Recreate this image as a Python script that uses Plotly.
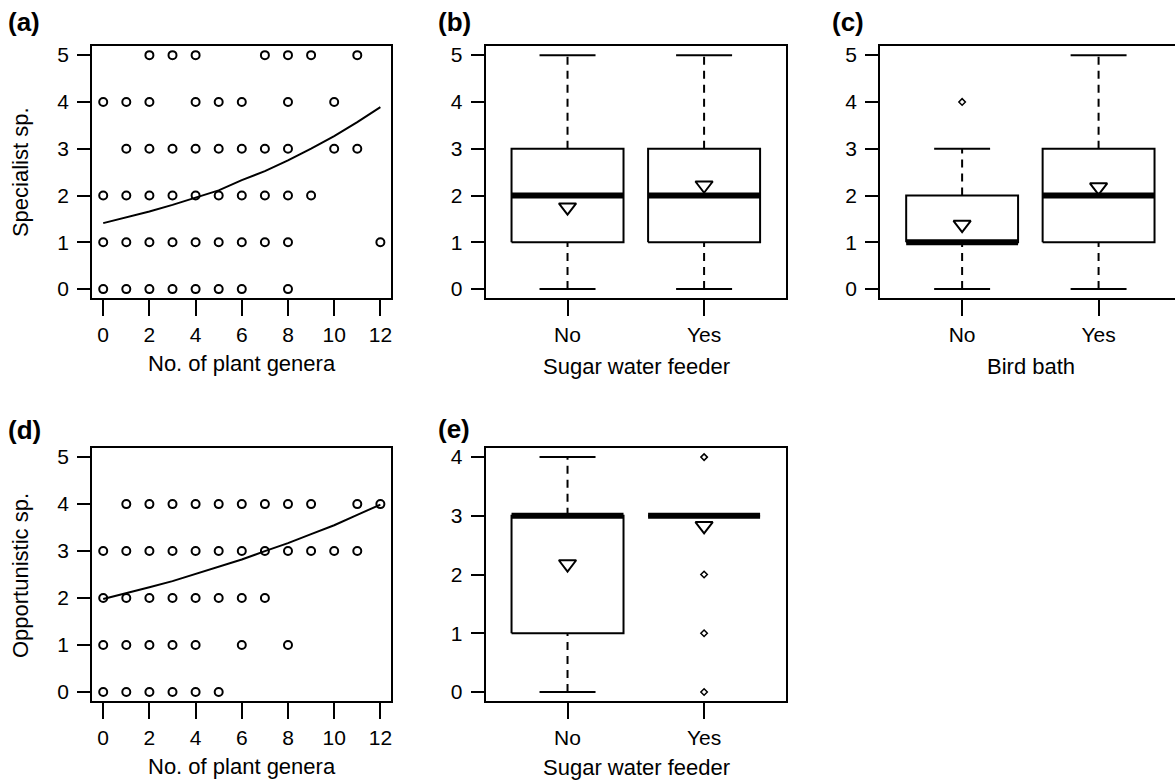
import plotly.graph_objects as go

# ---------------- data ----------------
# Panel (a): specialist species vs number of plant genera
spec_genera = [2, 3, 4, 7, 8, 9, 11,
               0, 1, 2, 4, 5, 6, 8, 10,
               1, 2, 3, 4, 5, 6, 7, 8, 10, 11,
               0, 1, 2, 3, 4, 5, 6, 7, 8, 9,
               0, 1, 2, 3, 4, 5, 6, 7, 8, 12,
               0, 1, 2, 3, 4, 5, 6, 8]
spec_count = [5] * 7 + [4] * 8 + [3] * 10 + [2] * 10 + [1] * 10 + [0] * 8

# Panel (d): opportunistic species vs number of plant genera
opp_genera = [1, 2, 3, 4, 5, 6, 7, 8, 9, 11, 12,
              0, 1, 2, 3, 4, 5, 6, 7, 8, 9, 10, 11,
              0, 1, 2, 3, 4, 5, 6, 7,
              0, 1, 2, 3, 4, 6, 8,
              0, 1, 2, 3, 4, 5]
opp_count = [4] * 11 + [3] * 12 + [2] * 8 + [1] * 7 + [0] * 6

# fitted curves
fit_genera = [0, 1, 2, 3, 4, 5, 6, 7, 8, 9, 10, 11, 12]
spec_fit = [1.41, 1.53, 1.66, 1.80, 1.96, 2.11, 2.33, 2.52, 2.75, 3.00, 3.27, 3.57, 3.89]
opp_fit = [1.98, 2.10, 2.23, 2.36, 2.51, 2.66, 2.82, 3.00, 3.17, 3.36, 3.55, 3.77, 3.99]

groups = ["No", "Yes"]

# Panel (b): specialist sp. by sugar water feeder
b_min = [0, 0]; b_q1 = [1, 1]; b_med = [2, 2]; b_q3 = [3, 3]; b_max = [5, 5]
b_mean = [1.75, 2.22]
b_out_group = []; b_out_val = []

# Panel (c): specialist sp. by bird bath
c_min = [0, 0]; c_q1 = [1, 1]; c_med = [1, 2]; c_q3 = [2, 3]; c_max = [3, 5]
c_mean = [1.38, 2.18]
c_out_group = ["No"]; c_out_val = [4]

# Panel (e): opportunistic sp. by sugar water feeder
e_min = [0, 3]; e_q1 = [1, 3]; e_med = [3, 3]; e_q3 = [3, 3]; e_max = [4, 3]
e_mean = [2.18, 2.83]
e_out_group = ["Yes", "Yes", "Yes", "Yes"]; e_out_val = [0, 1, 2, 4]

# ---------------- figure ----------------
W, H = 1176, 784
FONT = "Liberation Sans, Arial, sans-serif"
BLACK = "#000000"
fig = go.Figure()


def px_x(p):
    return p / W


def px_y(p):
    return 1 - p / H


def ax(n):
    return ("x" if n == 1 else f"x{n}"), ("y" if n == 1 else f"y{n}")


def add_scatter_panel(n, gx, gy, fx, fy):
    xa, ya = ax(n)
    fig.add_trace(go.Scatter(x=gx, y=gy, mode="markers", xaxis=xa, yaxis=ya,
                             marker=dict(symbol="circle-open", size=8, color=BLACK,
                                         line=dict(width=2, color=BLACK)),
                             showlegend=False, hoverinfo="skip"))
    fig.add_trace(go.Scatter(x=fx, y=fy, mode="lines", xaxis=xa, yaxis=ya,
                             line=dict(color=BLACK, width=2),
                             showlegend=False, hoverinfo="skip"))


def add_box_panel(n, vmin, q1, med, q3, vmax, mean, out_g, out_v):
    xa, ya = ax(n)
    bw = 0.82
    sw = 0.41
    for i, g in enumerate(groups):
        p = i + 1
        # whiskers (dashed)
        for lo, hi in ((q3[i], vmax[i]), (vmin[i], q1[i])):
            if hi > lo:
                fig.add_trace(go.Scatter(x=[p, p], y=[lo, hi], mode="lines", xaxis=xa, yaxis=ya,
                                         line=dict(color=BLACK, width=2, dash="8px,6px"),
                                         showlegend=False, hoverinfo="skip"))
        # staples
        for v in (vmin[i], vmax[i]):
            fig.add_trace(go.Scatter(x=[p - sw / 2, p + sw / 2], y=[v, v], mode="lines",
                                     xaxis=xa, yaxis=ya, line=dict(color=BLACK, width=2),
                                     showlegend=False, hoverinfo="skip"))
        # box
        fig.add_trace(go.Scatter(x=[p - bw / 2, p + bw / 2, p + bw / 2, p - bw / 2, p - bw / 2],
                                 y=[q1[i], q1[i], q3[i], q3[i], q1[i]], mode="lines",
                                 fill="toself", fillcolor="white",
                                 xaxis=xa, yaxis=ya, line=dict(color=BLACK, width=2),
                                 showlegend=False, hoverinfo="skip"))
        # median
        fig.add_trace(go.Scatter(x=[p - bw / 2, p + bw / 2], y=[med[i], med[i]], mode="lines",
                                 xaxis=xa, yaxis=ya, line=dict(color=BLACK, width=6),
                                 showlegend=False, hoverinfo="skip"))
    # outliers
    if out_v:
        fig.add_trace(go.Scatter(x=[groups.index(g) + 1 for g in out_g], y=out_v, mode="markers",
                                 xaxis=xa, yaxis=ya,
                                 marker=dict(symbol="diamond-open", size=5, color=BLACK,
                                             line=dict(width=1.5, color=BLACK)),
                                 showlegend=False, hoverinfo="skip"))
    # means
    fig.add_trace(go.Scatter(x=[1, 2], y=mean, mode="markers", xaxis=xa, yaxis=ya,
                             marker=dict(symbol="triangle-down-open", size=15, color=BLACK,
                                         line=dict(width=2, color=BLACK)),
                             showlegend=False, hoverinfo="skip"))


add_scatter_panel(1, spec_genera, spec_count, fit_genera, spec_fit)
add_box_panel(2, b_min, b_q1, b_med, b_q3, b_max, b_mean, b_out_group, b_out_val)
add_box_panel(3, c_min, c_q1, c_med, c_q3, c_max, c_mean, c_out_group, c_out_val)
add_scatter_panel(4, opp_genera, opp_count, fit_genera, opp_fit)
add_box_panel(5, e_min, e_q1, e_med, e_q3, e_max, e_mean, e_out_group, e_out_val)

# panel pixel boxes: (left, right, top, bottom)
top_row = (44, 298)
bot_row = (448, 703)
col_a = (92.2, 391.8)
col_b = (486, 786.7)
col_c = (881, 1176)

tickfont = dict(family=FONT, size=21, color=BLACK)
common_x = dict(showline=True, linecolor=BLACK, linewidth=2, mirror=True, ticks="outside",
                ticklen=16, tickwidth=2, tickcolor=BLACK, showgrid=False, zeroline=False,
                tickfont=tickfont, ticklabelstandoff=0)
common_y = dict(showline=True, linecolor=BLACK, linewidth=2, mirror=True, ticks="outside",
                ticklen=13, tickwidth=2, tickcolor=BLACK, showgrid=False, zeroline=False,
                tickfont=tickfont, ticklabelstandoff=4)


def xdom(c):
    return [px_x(c[0]), min(1.0, px_x(c[1]))]


def ydom(r):
    return [px_y(r[1]), px_y(r[0])]


num_ticks = [0, 2, 4, 6, 8, 10, 12]
fig.update_layout(
    xaxis=dict(common_x, domain=xdom(col_a), range=[-0.48, 12.48], tickvals=num_ticks, anchor="y"),
    yaxis=dict(common_y, domain=ydom(top_row), range=[-0.2, 5.2], tickvals=[0, 1, 2, 3, 4, 5], anchor="x"),
    xaxis2=dict(common_x, domain=xdom(col_b), range=[0.4, 2.6], tickvals=[1, 2], ticktext=groups, anchor="y2"),
    yaxis2=dict(common_y, domain=ydom(top_row), range=[-0.2, 5.2], tickvals=[0, 1, 2, 3, 4, 5], anchor="x2"),
    xaxis3=dict(common_x, domain=xdom(col_c), range=[0.4, 2.56], tickvals=[1, 2], ticktext=groups, anchor="y3"),
    yaxis3=dict(common_y, domain=ydom(top_row), range=[-0.2, 5.2], tickvals=[0, 1, 2, 3, 4, 5], anchor="x3",
                mirror=False),
    xaxis4=dict(common_x, domain=xdom(col_a), range=[-0.48, 12.48], tickvals=num_ticks, anchor="y4"),
    yaxis4=dict(common_y, domain=ydom(bot_row), range=[-0.2, 5.2], tickvals=[0, 1, 2, 3, 4, 5], anchor="x4"),
    xaxis5=dict(common_x, domain=xdom(col_b), range=[0.4, 2.6], tickvals=[1, 2], ticktext=groups, anchor="y5"),
    yaxis5=dict(common_y, domain=ydom(bot_row), range=[-0.16, 4.16], tickvals=[0, 1, 2, 3, 4], anchor="x5"),
)

annos = []
titlefont = dict(family=FONT, size=22, color=BLACK)
labfont = dict(family=FONT, size=26, color=BLACK)


def text(x, y, s, font, angle=0, xanchor="center"):
    annos.append(dict(x=px_x(x), y=px_y(y), xref="paper", yref="paper", text=s, showarrow=False,
                      font=font, textangle=angle, xanchor=xanchor, yanchor="middle"))


# axis titles
text(242, 363, "No. of plant genera", titlefont)
text(637, 366, "Sugar water feeder", titlefont)
text(1032, 366, "Bird bath", titlefont)
text(242, 768, "No. of plant genera", titlefont)
text(637, 769, "Sugar water feeder", titlefont)
text(20, 171, "Specialist sp.", titlefont, angle=-90)
text(20, 576, "Opportunistic sp.", titlefont, angle=-90)
# panel labels
text(6, 20, "<b>(a)</b>", labfont, xanchor="left")
text(436, 20, "<b>(b)</b>", labfont, xanchor="left")
text(831, 20, "<b>(c)</b>", labfont, xanchor="left")
text(6, 430, "<b>(d)</b>", labfont, xanchor="left")
text(436, 429, "<b>(e)</b>", labfont, xanchor="left")

fig.update_layout(
    width=W, height=H,
    margin=dict(l=0, r=0, t=0, b=0),
    paper_bgcolor="white", plot_bgcolor="white",
    annotations=annos,
    font=dict(family=FONT, color=BLACK),
    showlegend=False,
    hovermode=False,
)

fig.write_html("out.html", config={"displayModeBar": False},
               post_script="document.body.style.margin='0';document.body.style.overflow='hidden';")
